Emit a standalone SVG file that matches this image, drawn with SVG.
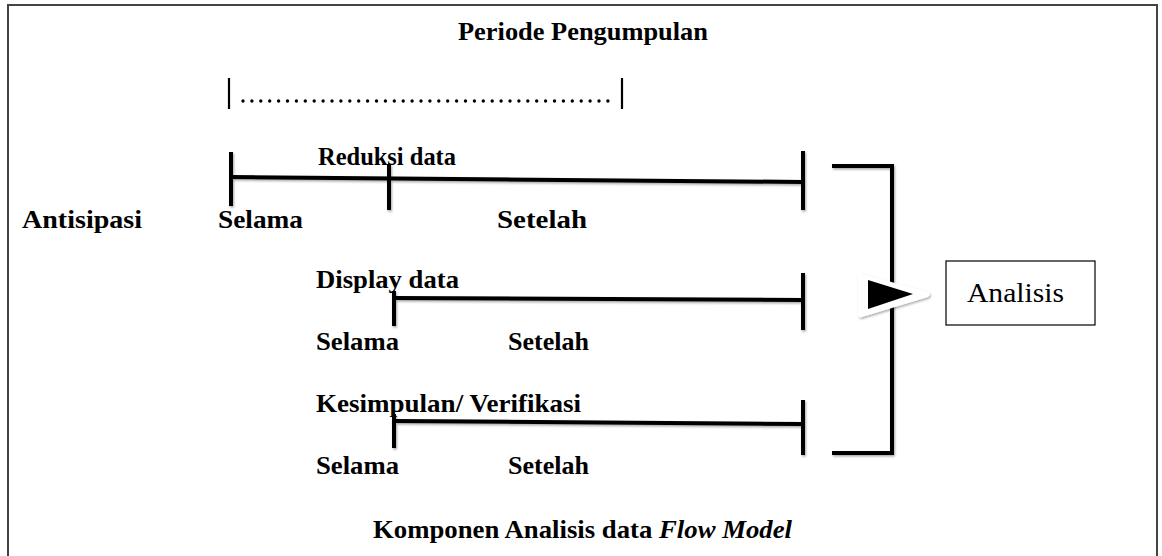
<svg xmlns="http://www.w3.org/2000/svg" width="1162" height="556" viewBox="0 0 1162 556">
<defs>
<style>
.t{font-family:"Liberation Serif","Times New Roman",serif;font-size:26px;font-weight:bold;fill:#000}
.r{font-family:"Liberation Serif","Times New Roman",serif;font-size:27px;fill:#000}
.ln{stroke:#000;stroke-width:4;fill:none;stroke-linecap:butt}
.sh{filter:url(#shadow)}
</style>
<filter id="shadow" x="-20%" y="-20%" width="140%" height="140%">
<feDropShadow dx="1" dy="1.5" stdDeviation="1" flood-color="#000" flood-opacity="0.35"/>
</filter>
</defs>
<rect width="1162" height="556" fill="#fff"/>
<g id="frame">
<path d="M8,560 V5 H1157 V560" fill="none" stroke="#444" stroke-width="2"/>
</g>
<g id="title"><text class="t" x="458" y="40" textLength="250" lengthAdjust="spacingAndGlyphs">Periode Pengumpulan</text></g>
<g id="periode">
<line x1="229" y1="78" x2="229" y2="109" stroke="#000" stroke-width="2.2"/>
<line x1="622" y1="78" x2="622" y2="109" stroke="#000" stroke-width="2.2"/>
<line x1="243" y1="101" x2="608" y2="101" stroke="#000" stroke-width="3.4" stroke-linecap="round" stroke-dasharray="0 8.9"/>
</g>
<g id="antisipasi"><text class="t" x="22" y="228" textLength="120" lengthAdjust="spacingAndGlyphs">Antisipasi</text></g>
<g id="reduksi">
<text class="t" x="318" y="165" textLength="138" lengthAdjust="spacingAndGlyphs">Reduksi data</text>
<text class="t" x="218" y="228" textLength="85" lengthAdjust="spacingAndGlyphs">Selama</text>
<text class="t" x="497" y="228" textLength="90" lengthAdjust="spacingAndGlyphs">Setelah</text>
</g>
<g id="display">
<text class="t" x="316" y="288" textLength="143" lengthAdjust="spacingAndGlyphs">Display data</text>
<text class="t" x="316" y="350" textLength="83" lengthAdjust="spacingAndGlyphs">Selama</text>
<text class="t" x="508" y="350" textLength="81" lengthAdjust="spacingAndGlyphs">Setelah</text>
</g>
<g id="kesimpulan">
<text class="t" x="316" y="412" textLength="265" lengthAdjust="spacingAndGlyphs">Kesimpulan/ Verifikasi</text>
<text class="t" x="316" y="474" textLength="83" lengthAdjust="spacingAndGlyphs">Selama</text>
<text class="t" x="508" y="474" textLength="81" lengthAdjust="spacingAndGlyphs">Setelah</text>
</g>
<g id="connectors" class="sh">
<line class="ln" x1="231" y1="177" x2="803" y2="182"/>
<line class="ln" x1="231" y1="152" x2="231" y2="206"/>
<line class="ln" x1="389" y1="164" x2="389" y2="210"/>
<line class="ln" x1="803" y1="151" x2="803" y2="210"/>
<line class="ln" x1="394" y1="298" x2="803" y2="300"/>
<line class="ln" x1="394" y1="291" x2="394" y2="326"/>
<line class="ln" x1="803" y1="273" x2="803" y2="330"/>
<line class="ln" x1="394" y1="421" x2="803" y2="424"/>
<line class="ln" x1="394" y1="414" x2="394" y2="448"/>
<line class="ln" x1="803" y1="400" x2="803" y2="455"/>
<path class="ln" d="M832,166 H892 V453 H832"/>
</g>
<g id="arrow">
<path d="M862,274 L928,292 Q932,294 928,297 L862,317 Q858,318 858,314 V277 Q858,273 862,274 Z" fill="#fff" class="sh"/>
<path d="M868,280 L913,294 L868,309 Z" fill="#000"/>
</g>
<g id="analisis">
<rect x="946" y="261" width="149" height="64" fill="#fff" stroke="#000" stroke-width="1.2"/>
<text class="r" x="967" y="302" textLength="97" lengthAdjust="spacingAndGlyphs">Analisis</text>
</g>
<g id="caption"><text class="t" x="373" y="538" textLength="419" lengthAdjust="spacingAndGlyphs">Komponen Analisis data <tspan font-style="italic">Flow Model</tspan></text></g>
</svg>
